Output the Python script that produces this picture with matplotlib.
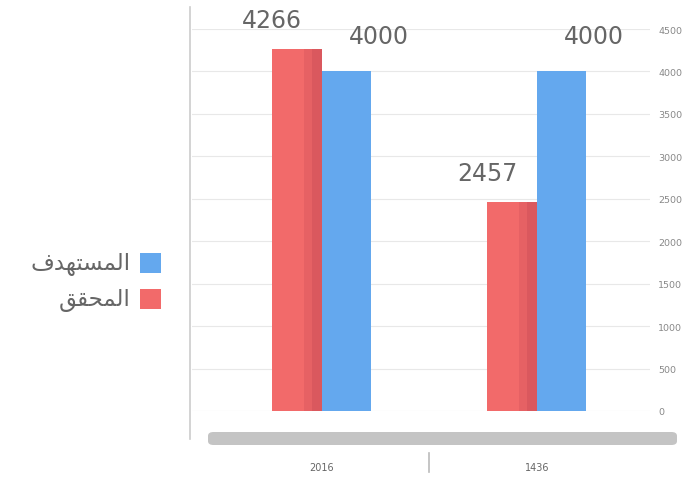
import matplotlib
matplotlib.use("Agg")
import matplotlib.pyplot as plt
from matplotlib.patches import FancyBboxPatch
from matplotlib.lines import Line2D
import numpy as np

# data
categories = ["2016", "1436"]
achieved = [4266, 2457]      # المحقق
target = [4000, 4000]        # المستهدف
yticks = [0, 500, 1000, 1500, 2000, 2500, 3000, 3500, 4000, 4500]

# Arabic labels, pre-shaped (presentation forms, visual order) since matplotlib has no RTL shaping
label_target = "\uFED1\uFEAA\uFEEC\uFE98\uFEB4\uFEE4\uFEDF\uFE8D"   # المستهدف
label_achieved = "\uFED6\uFED8\uFEA4\uFEE4\uFEDF\uFE8D"             # المحقق

red = "#f26a6a"
blue = "#64a8ee"
text_gray = "#666666"

fig = plt.figure(figsize=(6.92, 4.81), dpi=100)
ax = fig.add_axes([0.277, 0.1435, 0.662, 0.794])

x = np.arange(len(categories))
w = 0.23
ax.bar(x - w / 2, achieved, width=w, color=red, zorder=3)
ax.bar(x + w / 2, target, width=w, color=blue, zorder=3)

# darker shading toward the right side of red bars
for xi, v in zip(x, achieved):
    ax.bar(xi - w * 0.175, v, width=w * 0.35, color="#c44a55", alpha=0.25, zorder=3.5)
    ax.bar(xi - w * 0.1, v, width=w * 0.2, color="#c44a55", alpha=0.35, zorder=3.6)

for xi, v in zip(x, achieved):
    ax.text(xi - w * 1.0, v + 200, str(v), ha="center", va="bottom",
            fontsize=17, color=text_gray)
for xi, v in zip(x, target):
    ax.text(xi + w * 1.15, v + 280, str(v), ha="center", va="bottom",
            fontsize=17, color=text_gray)

ax.set_xlim(-0.605, 1.526)
ax.set_ylim(0, 4500)
ax.yaxis.tick_right()
ax.set_yticks(yticks)
ax.set_yticklabels([str(t) for t in yticks], fontsize=6.8, color="#888888")
ax.tick_params(axis="y", length=0, pad=6)
ax.set_xticks(x)
ax.set_xticklabels(categories, fontsize=7, color=text_gray)
ax.tick_params(axis="x", length=0, pad=37)
ax.grid(True, axis="y", color="#e8e8e8", linewidth=0.8, zorder=0)
for s in ax.spines.values():
    s.set_visible(False)

# left border line of plot region
fig.add_artist(Line2D([190 / 692, 190 / 692], [1 - 8 / 481, 1 - 440 / 481],
                      color="#cccccc", linewidth=1.2))
# scroll bar
fig.add_artist(FancyBboxPatch((208 / 692, 1 - 446 / 481), 469 / 692, 13 / 481,
                              boxstyle="round,pad=0,rounding_size=0.008",
                              transform=fig.transFigure, facecolor="#c4c4c4",
                              edgecolor="none"))
# category separator
ax.plot([0.5, 0.5], [-0.11, -0.16], transform=ax.get_xaxis_transform(),
        color="#bbbbbb", linewidth=1.2, clip_on=False)

# legend
items = [(label_target, blue, 264), (label_achieved, red, 300)]
for lab, col, yc in items:
    fig.add_artist(FancyBboxPatch((140 / 692, 1 - (yc + 10) / 481), 21 / 692, 20 / 481,
                                  boxstyle="square,pad=0", transform=fig.transFigure,
                                  facecolor=col, edgecolor="none"))
    fig.text(131 / 692, 1 - yc / 481, lab, ha="right", va="center",
             fontsize=16.5, color=text_gray, family="DejaVu Sans")

fig.savefig("out.png", dpi=100)
